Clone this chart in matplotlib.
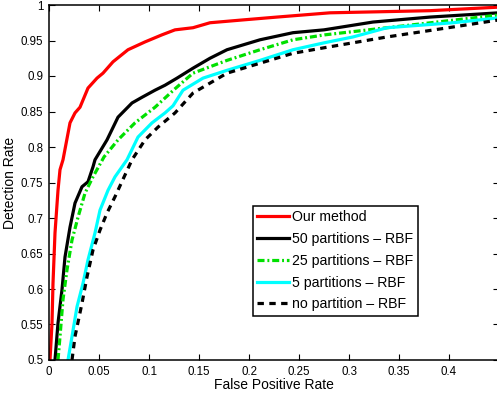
import matplotlib
matplotlib.use('Agg')
import matplotlib.pyplot as plt

plt.rcParams['font.family'] = ['Liberation Sans', 'DejaVu Sans']

# ROC curves (false positive rate, detection rate)
fpr_ours = [0.001, 0.003, 0.004, 0.006, 0.009, 0.011, 0.014, 0.021, 0.026, 0.031, 0.039,
            0.048, 0.054, 0.064, 0.079, 0.096, 0.113, 0.126, 0.144, 0.161, 0.194, 0.228,
            0.281, 0.381, 0.45]
tpr_ours = [0.5, 0.552, 0.608, 0.679, 0.739, 0.768, 0.782, 0.834, 0.848, 0.856, 0.883,
            0.897, 0.904, 0.92, 0.937, 0.948, 0.958, 0.965, 0.968, 0.975, 0.979, 0.983,
            0.989, 0.992, 0.997]

fpr_p50 = [0.006, 0.009, 0.013, 0.016, 0.021, 0.026, 0.033, 0.039, 0.044, 0.046, 0.058,
           0.069, 0.083, 0.093, 0.106, 0.116, 0.128, 0.144, 0.161, 0.178, 0.211, 0.244,
           0.275, 0.324, 0.381, 0.45]
tpr_p50 = [0.5, 0.552, 0.599, 0.645, 0.687, 0.721, 0.744, 0.751, 0.772, 0.782, 0.81,
           0.842, 0.862, 0.87, 0.88, 0.887, 0.897, 0.911, 0.925, 0.937, 0.951, 0.961,
           0.965, 0.976, 0.983, 0.989]

fpr_p25 = [0.009, 0.011, 0.014, 0.018, 0.023, 0.029, 0.036, 0.044, 0.055, 0.069, 0.086,
           0.106, 0.126, 0.144, 0.178, 0.211, 0.244, 0.276, 0.338, 0.388, 0.45]
tpr_p25 = [0.5, 0.533, 0.585, 0.627, 0.669, 0.701, 0.735, 0.758, 0.786, 0.81, 0.834,
           0.856, 0.882, 0.904, 0.922, 0.937, 0.951, 0.958, 0.968, 0.976, 0.986]

fpr_p5 = [0.019, 0.023, 0.028, 0.034, 0.039, 0.046, 0.051, 0.059, 0.066, 0.078, 0.089,
          0.103, 0.116, 0.124, 0.134, 0.154, 0.178, 0.211, 0.244, 0.276, 0.304, 0.338,
          0.404, 0.45]
tpr_p5 = [0.5, 0.533, 0.575, 0.608, 0.641, 0.679, 0.711, 0.739, 0.758, 0.782, 0.814,
          0.834, 0.848, 0.858, 0.88, 0.897, 0.908, 0.922, 0.937, 0.947, 0.955, 0.968,
          0.975, 0.982]

fpr_none = [0.023, 0.026, 0.033, 0.038, 0.044, 0.051, 0.058, 0.066, 0.083, 0.096, 0.109,
            0.126, 0.144, 0.161, 0.178, 0.211, 0.244, 0.276, 0.338, 0.404, 0.45]
tpr_none = [0.5, 0.533, 0.58, 0.617, 0.655, 0.683, 0.707, 0.73, 0.782, 0.81, 0.828,
            0.848, 0.876, 0.89, 0.904, 0.918, 0.932, 0.94, 0.955, 0.969, 0.979]

labels = ['Our method', '50 partitions \u2013 RBF', '25 partitions \u2013 RBF',
          '5 partitions \u2013 RBF', 'no partition \u2013 RBF']

xticks = [0, 0.05, 0.1, 0.15, 0.2, 0.25, 0.3, 0.35, 0.4]
xticklabels = ['0', '0.05', '0.1', '0.15', '0.2', '0.25', '0.3', '0.35', '0.4']
yticks = [0.5, 0.55, 0.6, 0.65, 0.7, 0.75, 0.8, 0.85, 0.9, 0.95, 1.0]
yticklabels = ['0.5', '0.55', '0.6', '0.65', '0.7', '0.75', '0.8', '0.85', '0.9', '0.95', '1']

W, H = 497, 394
fig = plt.figure(figsize=(W / 100, H / 100), dpi=100)
# axes runs slightly past the right edge, as in the cropped original
ax = fig.add_axes([49 / W, (H - 360) / H, 450 / W, 355 / H])

lw = 2.3
ax.plot(fpr_ours, tpr_ours, color='red', lw=lw, label=labels[0])
ax.plot(fpr_p50, tpr_p50, color='black', lw=lw, label=labels[1])
ax.plot(fpr_p25, tpr_p25, color='#00e000', lw=lw, dashes=(2.2, 0.9, 0.6, 0.9),
        label=labels[2])
ax.plot(fpr_p5, tpr_p5, color='cyan', lw=lw, label=labels[3])
ax.plot(fpr_none, tpr_none, color='black', lw=lw, dashes=(2.0, 1.7), label=labels[4])

ax.set_xlim(0, 0.45)
ax.set_ylim(0.5, 1.0)
ax.set_xticks(xticks)
ax.set_xticklabels(xticklabels)
ax.set_yticks(yticks)
ax.set_yticklabels(yticklabels)
ax.tick_params(direction='in', top=True, right=True, length=4, width=0.8,
               labelsize=8.3, pad=4, colors='black')
for s in ax.spines.values():
    s.set_linewidth(1.1)

ax.set_xlabel('False Positive Rate', fontsize=10, labelpad=0)
ax.set_ylabel('Detection Rate', fontsize=10, labelpad=3)

leg = ax.legend(loc='lower left', bbox_to_anchor=(0.453, 0.124), borderaxespad=0,
                fancybox=False, fontsize=10.2, handlelength=2.25, handletextpad=0.2,
                labelspacing=0.55, borderpad=0.32, framealpha=1)
leg.get_frame().set_edgecolor('black')
leg.get_frame().set_linewidth(1.1)

fig.savefig('out.png', dpi=100)
